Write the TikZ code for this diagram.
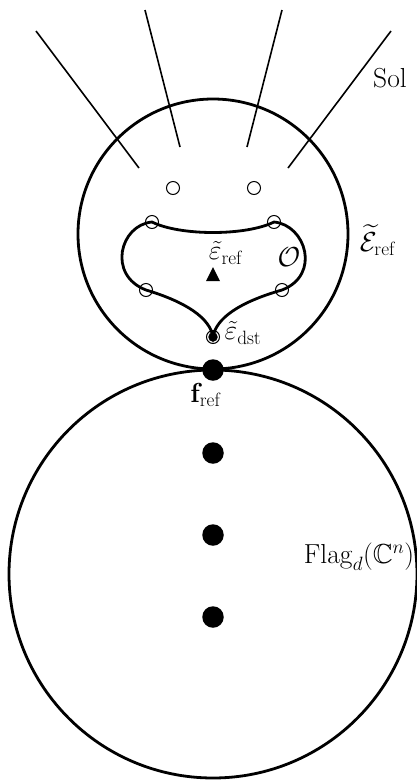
\RequirePackage{fix-cm}
\documentclass[tikz,border=0pt]{standalone}
\usepackage{amsmath,amssymb}
\begin{document}
\begin{tikzpicture}[x=1pt,y=-1pt,
  big/.style={line width=2.8pt},
  ray/.style={line width=1.6pt},
  hole/.style={circle,draw,line width=1pt,minimum size=13pt,inner sep=0pt},
  bigdot/.style={circle,fill,minimum size=21.5pt,inner sep=0pt},
  lab/.style={inner sep=0pt,font=\fontsize{27.5}{32}\selectfont}]
\useasboundingbox (0,0) rectangle (417,780);
% circles
\draw[big] (213,234) circle (135);
\draw[big] (213,574) circle (204);
% rays
\coordinate (r1a) at (36,31);  \coordinate (r1b) at (139,168);
\coordinate (r2a) at (145,10); \coordinate (r2b) at (180,147);
\coordinate (r3a) at (282,10); \coordinate (r3b) at (247,147);
\coordinate (r4a) at (391,31); \coordinate (r4b) at (288,168);
\draw[ray] (r1a) -- (r1b);
\draw[ray] (r2a) -- (r2b);
\draw[ray] (r3a) -- (r3b);
\draw[ray] (r4a) -- (r4b);
% orbit curve
\coordinate (A) at (152,222);
\coordinate (B) at (274,222);
\coordinate (C) at (146,290);
\coordinate (D) at (282,290);
\coordinate (E) at (213,337);
\draw[big] (A) .. controls (180,236) and (246,236) .. (B)
  .. controls (306,225) and (321,275) .. (D)
  .. controls (240,302) and (216,318) .. (E)
  .. controls (210,318) and (186,302) .. (C)
  .. controls (107,275) and (120,225) .. (A) -- cycle;
% holes
\node[hole] (h1) at (173,188) {};
\node[hole] (h2) at (254,188) {};
\node[hole] (h3) at (A) {};
\node[hole] (h4) at (B) {};
\node[hole] (h5) at (C) {};
\node[hole] (h6) at (D) {};
\node[hole] (h7) at (E) {};
\node[circle,fill,minimum size=9.5pt,inner sep=0pt] (dst) at (E) {};
% triangle
\fill (213,267) -- (206,281) -- (220,281) -- cycle;
% big dots
\node[bigdot] (f) at (213,370) {};
\node[bigdot] (d1) at (213,453) {};
\node[bigdot] (d2) at (213,535) {};
\node[bigdot] (d3) at (213,617) {};
% labels
\node[lab] (sol) at (390,78) {Sol};
\node[lab] (eref) at (226,253) {$\tilde{\varepsilon}_{\mathrm{ref}}$};
\node[lab] (O) at (289,257) {$\mathcal{O}$};
\node[lab] (Eref) at (378,240) {$\widetilde{\mathcal{E}}_{\mathrm{ref}}$};
\node[lab] (edst) at (243,333) {$\tilde{\varepsilon}_{\mathrm{dst}}$};
\node[lab] (fref) at (206,395) {$\mathbf{f}_{\mathrm{ref}}$};
\node[lab] (flag) at (359,557) {$\mathrm{Flag}_d(\mathbb{C}^n)$};
\end{tikzpicture}
\end{document}
